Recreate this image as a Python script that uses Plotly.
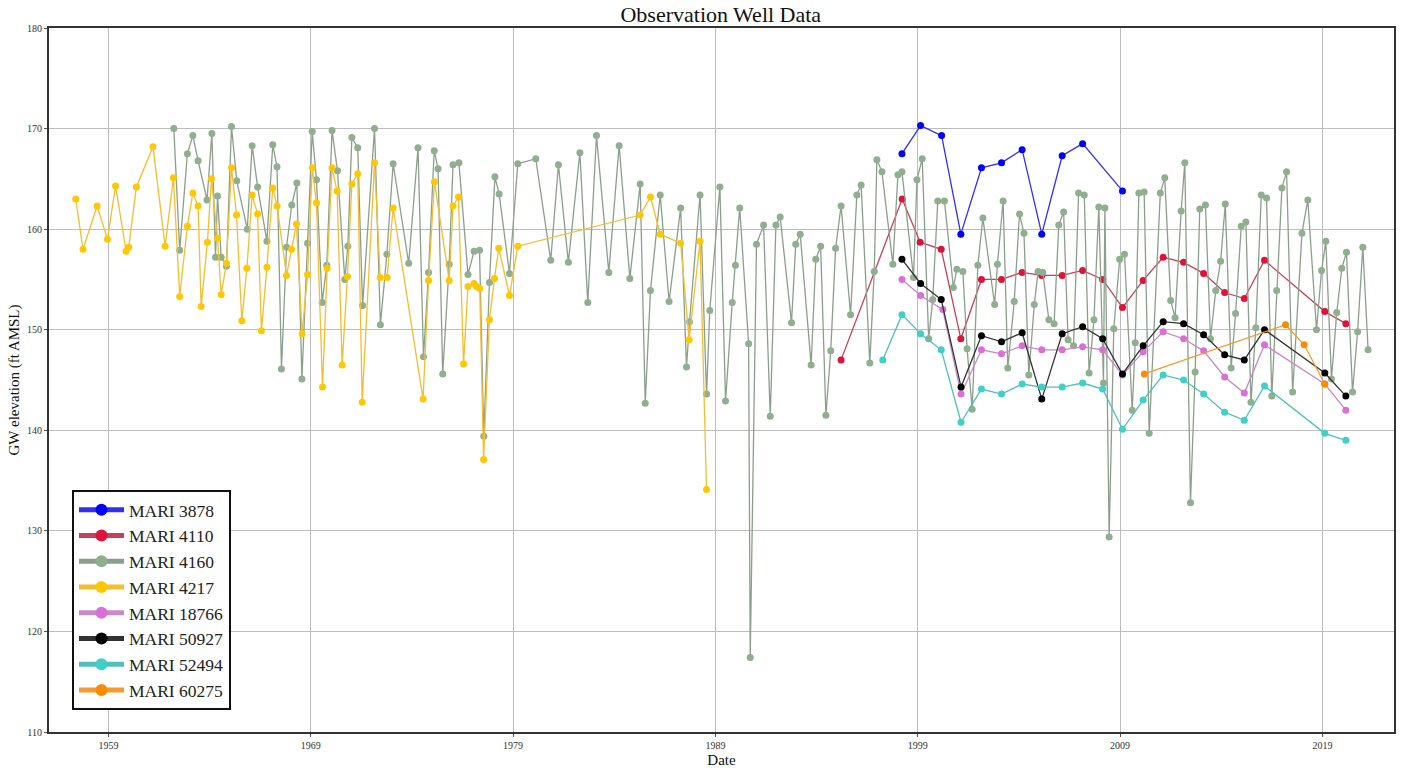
import plotly.graph_objects as go

# ---------------- data (decimal years, ft AMSL) ----------------
mari3878_x = [1998.22, 1999.14, 2000.18, 2001.13, 2002.15, 2003.14, 2004.16, 2005.13, 2006.14, 2007.15, 2009.12]
mari3878_y = [167.5, 170.3, 169.3, 159.5, 166.1, 166.6, 167.9, 159.5, 167.3, 168.5, 163.8]

mari4110_x = [1995.21, 1998.23, 1999.12, 2000.16, 2001.13, 2002.15, 2003.14, 2004.16, 2005.13, 2006.14, 2007.15,
              2008.14, 2009.12, 2010.14, 2011.13, 2012.14, 2013.13, 2014.17, 2015.14, 2016.14, 2019.12, 2020.16]
mari4110_y = [147.0, 163.0, 158.7, 158.0, 149.1, 155.0, 155.0, 155.7, 155.4, 155.4, 155.9,
              155.0, 152.2, 154.9, 157.2, 156.7, 155.6, 153.7, 153.1, 156.9, 151.8, 150.6]

mari4160_x = [1962.23, 1962.52, 1962.9, 1963.17, 1963.43, 1963.87, 1964.11, 1964.29, 1964.39, 1964.57, 1964.83,
              1965.08, 1965.34, 1965.86, 1966.1, 1966.37, 1966.83, 1967.12, 1967.33, 1967.55, 1967.8, 1968.06,
              1968.31, 1968.56, 1968.84, 1969.07, 1969.28, 1969.56, 1969.79, 1970.05, 1970.32, 1970.68, 1970.83,
              1971.03, 1971.32, 1971.56, 1972.15, 1972.44, 1972.76, 1973.07, 1973.84, 1974.3, 1974.57, 1974.82,
              1975.1, 1975.29, 1975.52, 1975.84, 1976.03, 1976.32, 1976.77, 1977.07, 1977.34, 1977.55, 1977.83,
              1978.1, 1978.31, 1978.82, 1979.23, 1980.12, 1980.86, 1981.24, 1981.73, 1982.3, 1982.69, 1983.12,
              1983.73, 1984.24, 1984.77, 1985.28, 1985.53, 1985.79, 1986.27, 1986.71, 1987.28, 1987.57, 1987.72,
              1988.24, 1988.56, 1988.72, 1989.22, 1989.5, 1989.83, 1989.99, 1990.2, 1990.64, 1990.72, 1991.03,
              1991.38, 1991.71, 1991.99, 1992.2, 1992.76, 1992.97, 1993.19, 1993.73, 1993.96, 1994.2, 1994.46,
              1994.7, 1994.94, 1995.21, 1995.68, 1995.99, 1996.2, 1996.63, 1996.85, 1996.98, 1997.23, 1997.77,
              1998.02, 1998.22, 1998.79, 1998.96, 1999.22, 1999.54, 1999.74, 1999.99, 2000.32, 2000.76, 2000.93,
              2001.23, 2001.44, 2001.69, 2001.97, 2002.22, 2002.8, 2002.94, 2003.22, 2003.45, 2003.77, 2004.03,
              2004.25, 2004.49, 2004.76, 2004.95, 2005.18, 2005.48, 2005.74, 2005.97, 2006.21, 2006.43, 2006.7,
              2006.95, 2007.23, 2007.47, 2007.71, 2007.95, 2008.18, 2008.25, 2008.46, 2008.69, 2008.98, 2009.22,
              2009.6, 2009.75, 2009.93, 2010.19, 2010.44, 2010.99, 2011.21, 2011.5, 2011.72, 2012.02, 2012.2,
              2012.48, 2012.71, 2012.94, 2013.22, 2013.47, 2013.73, 2013.97, 2014.2, 2014.49, 2014.71, 2014.99,
              2015.22, 2015.47, 2015.71, 2015.98, 2016.24, 2016.5, 2016.74, 2017.0, 2017.23, 2017.53, 2017.99,
              2018.28, 2018.71, 2018.96, 2019.17, 2019.45, 2019.71, 2019.96, 2020.19, 2020.49, 2020.74, 2021.0,
              2021.26]
mari4160_y = [170.0, 157.9, 167.5, 169.3, 166.8, 162.9, 169.5, 157.2, 163.3, 157.2, 156.3,
              170.2, 164.8, 160.0, 168.3, 164.2, 158.8, 168.4, 166.2, 146.1, 158.2, 162.4,
              164.6, 145.1, 158.6, 169.7, 164.9, 152.7, 156.4, 169.8, 165.8, 155.0, 158.3,
              169.1, 168.1, 152.4, 170.0, 150.5, 157.5, 166.5, 156.6, 168.1, 147.3, 155.7,
              167.8, 166.0, 145.6, 156.5, 166.4, 166.6, 155.5, 157.8, 157.9, 139.4, 154.7,
              165.2, 163.5, 155.6, 166.5, 167.0, 156.9, 166.4, 156.7, 167.6, 152.7, 169.3,
              155.7, 168.3, 155.1, 164.5, 142.7, 153.9, 163.4, 152.8, 162.1, 146.3, 150.8,
              163.4, 143.6, 151.9, 164.2, 142.9, 152.7, 156.4, 162.1, 148.6, 117.4, 158.5,
              160.4, 141.4, 160.4, 161.2, 150.7, 158.5, 159.5, 146.5, 157.0, 158.3, 141.5,
              147.9, 158.1, 162.3, 151.5, 163.4, 164.4, 146.7, 155.8, 166.9, 165.7, 156.5,
              165.4, 165.7, 155.2, 164.9, 167.0, 149.1, 153.0, 162.8, 162.8, 154.2, 156.0,
              155.8, 148.1, 142.1, 156.4, 161.1, 152.5, 156.5, 162.8, 146.2, 152.8, 161.5,
              159.6, 145.5, 152.5, 155.8, 155.7, 151.0, 150.6, 160.4, 161.7, 149.0, 148.4,
              163.6, 163.4, 145.7, 151.0, 162.2, 144.7, 162.1, 129.4, 150.1, 157.0, 157.5,
              142.0, 148.7, 163.6, 163.7, 139.7, 163.6, 165.1, 152.9, 151.2, 161.8, 166.6,
              132.8, 145.8, 162.0, 162.4, 149.1, 153.9, 156.8, 162.5, 146.2, 151.6, 160.3,
              160.7, 142.8, 150.2, 163.4, 163.1, 143.4, 153.9, 164.1, 165.7, 143.8, 159.6,
              162.9, 150.0, 155.9, 158.8, 145.1, 151.7, 156.1, 157.7, 143.8, 149.8, 158.2,
              148.0]

mari4217_x = [1957.38, 1957.74, 1958.44, 1958.95, 1959.35, 1959.87, 1960.0, 1960.38, 1961.2, 1961.8, 1962.21,
              1962.52, 1962.9, 1963.17, 1963.43, 1963.58, 1963.89, 1964.09, 1964.39, 1964.57, 1964.83, 1965.08,
              1965.33, 1965.59, 1965.84, 1966.1, 1966.37, 1966.56, 1966.83, 1967.12, 1967.33, 1967.8, 1968.05,
              1968.29, 1968.57, 1968.84, 1969.07, 1969.28, 1969.58, 1969.81, 1970.05, 1970.3, 1970.55, 1970.81,
              1971.03, 1971.32, 1971.54, 1972.15, 1972.43, 1972.77, 1973.07, 1974.55, 1974.82, 1975.11, 1975.84,
              1976.03, 1976.3, 1976.55, 1976.77, 1977.07, 1977.19, 1977.35, 1977.54, 1977.83, 1978.08, 1978.29,
              1978.82, 1979.23, 1985.28, 1985.79, 1986.27, 1987.28, 1987.7, 1988.24, 1988.56]
mari4217_y = [163.0, 158.0, 162.3, 159.0, 164.3, 157.8, 158.2, 164.2, 168.2, 158.3, 165.1,
              153.3, 160.3, 163.6, 162.3, 152.3, 158.7, 165.0, 159.1, 153.5, 156.6, 166.1,
              161.4, 150.9, 156.1, 163.4, 161.5, 149.9, 156.2, 164.1, 162.3, 155.4, 158.0,
              160.5, 149.6, 155.5, 166.1, 162.6, 144.3, 156.1, 166.1, 163.8, 146.5, 155.3,
              164.5, 165.5, 142.8, 166.6, 155.2, 155.2, 162.1, 143.1, 154.9, 164.7, 154.9,
              162.3, 163.2, 146.6, 154.3, 154.6, 154.3, 154.1, 137.1, 151.0, 155.1, 158.1,
              153.4, 158.3, 161.4, 163.2, 159.5, 158.6, 149.0, 158.8, 134.1]

mari18766_x = [1998.22, 1999.14, 2000.24, 2001.14, 2002.15, 2003.14, 2004.16, 2005.13, 2006.14, 2007.15, 2008.14,
               2009.12, 2010.14, 2011.13, 2012.14, 2013.13, 2014.17, 2015.14, 2016.14, 2019.12, 2020.16]
mari18766_y = [155.0, 153.4, 152.0, 143.6, 148.0, 147.6, 148.4, 148.0, 148.0, 148.3, 148.0,
               145.5, 147.8, 149.8, 149.1, 147.9, 145.3, 143.7, 148.5, 144.6, 142.0]

mari50927_x = [1998.22, 1999.14, 2000.16, 2001.14, 2002.15, 2003.14, 2004.16, 2005.13, 2006.14, 2007.15, 2008.14,
               2009.12, 2010.14, 2011.13, 2012.14, 2013.13, 2014.17, 2015.14, 2016.14, 2019.12, 2020.16]
mari50927_y = [157.0, 154.6, 153.0, 144.3, 149.4, 148.8, 149.7, 143.1, 149.6, 150.3, 149.1,
               145.6, 148.4, 150.8, 150.6, 149.5, 147.5, 147.0, 150.0, 145.7, 143.4]

mari52494_x = [1997.27, 1998.22, 1999.14, 2000.16, 2001.14, 2002.15, 2003.14, 2004.16, 2005.13, 2006.14, 2007.15,
               2008.14, 2009.12, 2010.14, 2011.13, 2012.14, 2013.13, 2014.17, 2015.14, 2016.14, 2019.12, 2020.16]
mari52494_y = [147.0, 151.5, 149.6, 148.0, 140.8, 144.1, 143.6, 144.6, 144.3, 144.3, 144.7,
               144.1, 140.1, 143.0, 145.5, 145.0, 143.6, 141.8, 141.0, 144.4, 139.7, 139.0]

mari60275_x = [2010.2, 2017.18, 2018.1, 2019.12]
mari60275_y = [145.6, 150.5, 148.5, 144.6]

x_tick_vals = [1959, 1969, 1979, 1989, 1999, 2009, 2019]
x_tick_text = ["1959", "1969", "1979", "1989", "1999", "2009", "2019"]
y_tick_vals = [110, 120, 130, 140, 150, 160, 170, 180]

series = [
    ("MARI 3878", mari3878_x, mari3878_y, "#0000FF", "#3030F0"),
    ("MARI 4110", mari4110_x, mari4110_y, "#DC143C", "#C8405A"),
    ("MARI 4160", mari4160_x, mari4160_y, "#8FAF8F", "#8AA08A"),
    ("MARI 4217", mari4217_x, mari4217_y, "#FFC800", "#F5BE30"),
    ("MARI 18766", mari18766_x, mari18766_y, "#DA70D6", "#C88AC8"),
    ("MARI 50927", mari50927_x, mari50927_y, "#000000", "#333333"),
    ("MARI 52494", mari52494_x, mari52494_y, "#40D0C8", "#50C0BA"),
    ("MARI 60275", mari60275_x, mari60275_y, "#FF8C00", "#F59A30"),
]

SERIF = "Liberation Serif, Times New Roman, serif"

fig = go.Figure()
for name, xs, ys, mcol, lcol in series:
    fig.add_trace(go.Scatter(
        x=xs, y=ys, name=name, mode="lines+markers",
        line=dict(color=lcol, width=1.3),
        marker=dict(color=mcol, size=7, line=dict(width=0)),
        hoverinfo="skip",
    ))

fig.update_layout(
    width=1401, height=769,
    paper_bgcolor="white", plot_bgcolor="white",
    margin=dict(l=49, r=7, t=28, b=37, autoexpand=False),
    title=dict(text="Observation Well Data", x=0.5145, xanchor="center",
               y=0.981, yanchor="middle", yref="container",
               font=dict(family=SERIF, size=22, color="#111111")),
    font=dict(family=SERIF, color="#222222"),
    showlegend=True,
    legend=dict(
        x=0.0171, y=0.3438, xanchor="left", yanchor="top",
        bgcolor="white", bordercolor="#111111", borderwidth=2,
        font=dict(family=SERIF, size=17.5, color="#222222"),
        tracegroupgap=0, itemsizing="constant", itemwidth=45,
    ),
)
fig.update_xaxes(
    range=[1956.06, 2022.54], tickmode="array", tickvals=x_tick_vals, ticktext=x_tick_text,
    automargin=False,
    showgrid=True, gridcolor="#bdbdbd", gridwidth=1, zeroline=False,
    showline=True, linecolor="#333333", linewidth=2, mirror=True,
    ticks="outside", ticklen=3, tickcolor="#555555",
    tickfont=dict(family=SERIF, size=10, color="#333333"),
    title=dict(text="Date", font=dict(family=SERIF, size=15, color="#111111"), standoff=4),
)
fig.update_yaxes(
    range=[110, 180], tickmode="array", tickvals=y_tick_vals,
    automargin=False,
    showgrid=True, gridcolor="#bdbdbd", gridwidth=1, zeroline=False,
    showline=True, linecolor="#333333", linewidth=2, mirror=True,
    ticks="outside", ticklen=3, tickcolor="#555555",
    tickfont=dict(family=SERIF, size=10, color="#333333"),
    title=dict(text="GW elevation (ft AMSL)", font=dict(family=SERIF, size=15, color="#111111"), standoff=4),
)

# remove the default 8px page margin so the figure sits at the window origin
fig.write_html("out.html",
               config={"displayModeBar": False},
               post_script="document.body.style.margin='0';document.body.style.overflow='hidden';")
